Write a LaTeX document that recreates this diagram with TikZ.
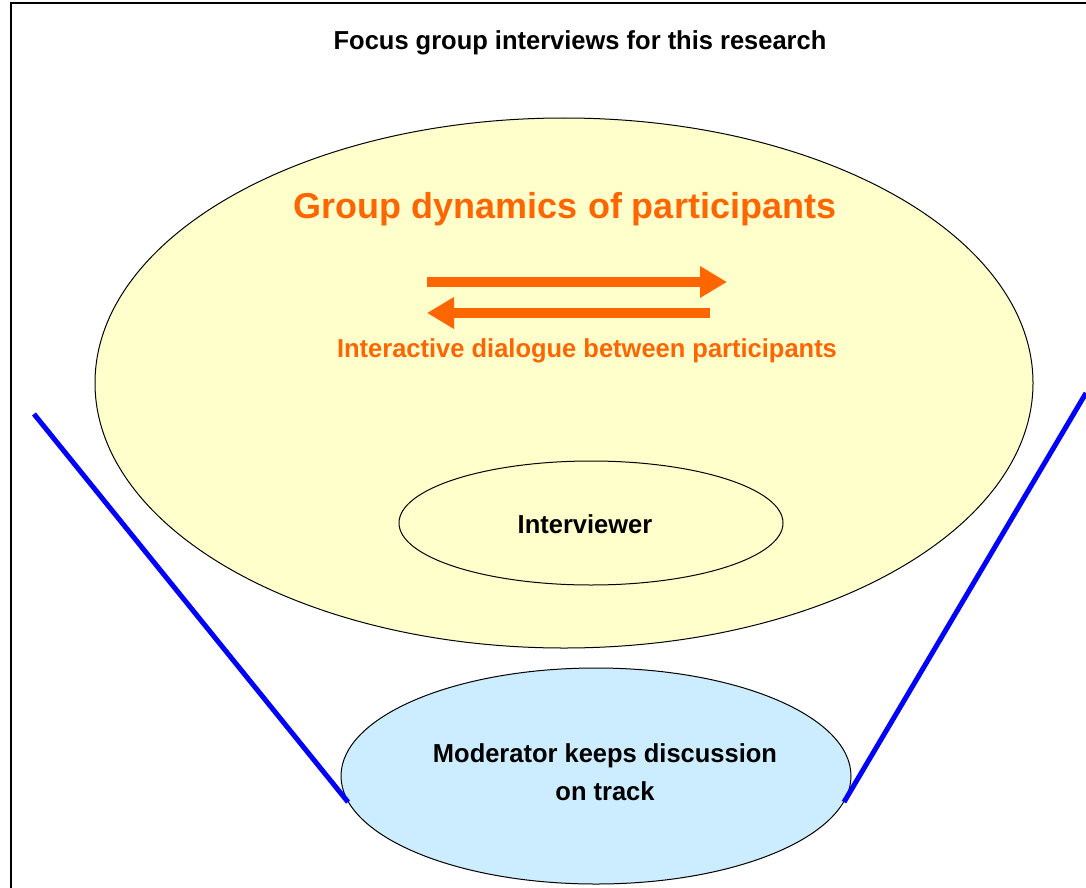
\documentclass[tikz,border=0pt]{standalone}
\usepackage{fontspec}
\setmainfont{Liberation Sans}
\newfontfamily\narrowbf[FakeStretch=0.98]{Liberation Sans Bold}
\newfontfamily\widebf{Liberation Sans Bold}
\usetikzlibrary{shapes.geometric,arrows.meta}
\definecolor{ora}{HTML}{FF6600}
\definecolor{yel}{HTML}{FFFFCC}
\definecolor{lblue}{HTML}{CCECFF}
\definecolor{pblue}{HTML}{0000FF}
\tikzset{
  oval/.style={ellipse, draw=black, line width=1pt, inner sep=0pt},
  bluebar/.style={draw=pblue, line width=5pt},
  orarrow/.style={draw=ora, line width=10pt, -{Triangle[length=27pt,width=30pt]}},
  narrowtext/.style={font=\narrowbf\fontsize{26}{32}\selectfont, align=center},
}
\begin{document}
\begin{tikzpicture}[x=1pt,y=-1pt]
\useasboundingbox (0,0) rectangle (1086,888);
\fill[white] (0,0) rectangle (1086,888);
% frame
\draw[line width=2pt] (11,888) -- (11,3) -- (1086,3);
% title
\node[narrowtext, text=black] (title) at (580,43) {Focus group interviews for this research};
% big ellipse
\node[oval, fill=yel, minimum width=938pt, minimum height=530pt] (group) at (564,383) {};
\node[font=\widebf\fontsize{36}{40}\selectfont, text=ora] (gd) at (565,209) {Group dynamics of participants};
\coordinate (r1) at (427,282); \coordinate (r2) at (727,282);
\coordinate (l1) at (710,313); \coordinate (l2) at (427,313);
\draw[orarrow] (r1) -- (r2);
\draw[orarrow] (l1) -- (l2);
\node[narrowtext, text=ora] (dialog) at (587,351) {Interactive dialogue between participants};
% interviewer
\node[oval, fill=yel, minimum width=384pt, minimum height=124pt] (intv) at (591,523) {};
\node[narrowtext] (intvtext) at (585,524) {Interviewer};
% moderator
\node[oval, fill=lblue, minimum width=510pt, minimum height=216pt] (mod) at (596,776) {};
\node[narrowtext, font=\narrowbf\fontsize{26}{38}\selectfont] (modtext) at (605,772) {Moderator keeps discussion\\on track};
\coordinate (ltop) at (34,414);
\coordinate (rtop) at (1086,393);
\draw[bluebar] (ltop) -- (mod.186.2);
\draw[bluebar] (rtop) -- (mod.-6.7);
\end{tikzpicture}
\end{document}
